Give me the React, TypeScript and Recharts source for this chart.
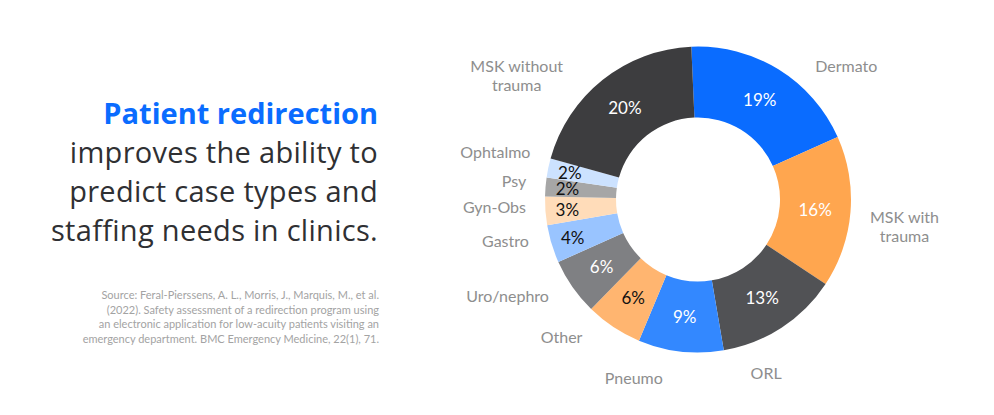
import { PieChart, Pie, Cell } from 'recharts';

const categories = [
  'Dermato',
  'MSK with\ntrauma',
  'ORL',
  'Pneumo',
  'Other',
  'Uro/nephro',
  'Gastro',
  'Gyn-Obs',
  'Psy',
  'Ophtalmo',
  'MSK without\ntrauma',
];
const shares = [19, 16, 13, 9, 6, 6, 4, 3, 2, 2, 20];

const sliceColors = [
  '#0a6cff', '#ffa64f', '#515255', '#3388ff', '#ffb570', '#7f8083',
  '#99c4ff', '#ffdcb9', '#a6a6a6', '#cce2ff', '#3d3d3f',
];
const pctColors = [
  '#fff', '#fff', '#fff', '#fff', '#111', '#fff',
  '#111', '#111', '#111', '#111', '#fff',
];

const data = categories.map((name, i) => ({ name, value: shares[i] }));

const FONT = 'Lato, "Open Sans", sans-serif';
const HEAD_FONT = '"Open Sans", Lato, sans-serif';
const LABEL_SIZE = 16;
const LINE_H = 19;
const GAP = 18;
const LABEL_TURN = 12; // labels under the centre drift clockwise
const Y_TOP = 55;
const Y_BOTTOM = 395;

let ctx: CanvasRenderingContext2D | null = null;
function textWidth(s: string) {
  if (!ctx) ctx = document.createElement('canvas').getContext('2d');
  if (!ctx) return s.length * LABEL_SIZE * 0.5;
  ctx.font = `${LABEL_SIZE}px ${FONT}`;
  return ctx.measureText(s).width;
}

// distance from pie centre to the nearest point of a box centred at (x, y)
function nearest(x: number, y: number, hw: number, hh: number) {
  const px = Math.max(x - hw, Math.min(0, x + hw));
  const py = Math.max(y - hh, Math.min(0, y + hh));
  return Math.hypot(px, py);
}

function solve(f: (t: number) => number, target: number) {
  let lo = 0;
  let hi = 500;
  for (let k = 0; k < 40; k++) {
    const m = (lo + hi) / 2;
    if (f(m) < target) lo = m;
    else hi = m;
  }
  return hi;
}

function renderLabel(props: any) {
  const { cx, cy, midAngle, innerRadius, outerRadius, index, value } = props;
  const rad = Math.PI / 180;
  const ux = Math.cos(midAngle * rad);
  const uy = -Math.sin(midAngle * rad);
  const la = (midAngle - 1.5 - LABEL_TURN * Math.max(0, uy)) * rad;
  const vx = Math.cos(la);
  const vy = -Math.sin(la);
  const lines = String(categories[index]).split('\n');
  const hw = Math.max(...lines.map(textWidth)) / 2 + 1;
  const hh = (lines.length * LINE_H) / 2;
  const minDist = outerRadius + GAP;

  const t = solve((s) => nearest(s * vx, s * vy, hw, hh), minDist);
  let lx = t * vx;
  let ly = t * vy;
  const side = vx >= 0 ? 1 : -1;
  if (cy + ly - hh < Y_TOP) {
    ly = Y_TOP - cy + hh;
    lx = side * solve((s) => nearest(side * s, ly, hw, hh), minDist);
  } else if (cy + ly + hh > Y_BOTTOM) {
    ly = Y_BOTTOM - cy - hh;
    lx = side * solve((s) => nearest(side * s, ly, hw, hh), minDist);
  }

  const pr = value < 5 ? outerRadius - 22 : (innerRadius + outerRadius) / 2;
  const px = cx + pr * ux;
  const py = cy + pr * uy;

  return (
    <g>
      <text
        x={cx + lx}
        y={cy + ly - hh + LINE_H / 2}
        textAnchor="middle"
        dominantBaseline="central"
        fill="#8e8e8e"
        fontSize={LABEL_SIZE}
        fontFamily={FONT}
      >
        {lines.map((ln, i) => (
          <tspan key={i} x={cx + lx} dy={i === 0 ? 0 : LINE_H}>
            {ln}
          </tspan>
        ))}
      </text>
      <text
        x={px}
        y={py}
        textAnchor="middle"
        dominantBaseline="central"
        fill={pctColors[index]}
        fontSize={17}
        fontFamily={FONT}
      >
        {value}%
      </text>
    </g>
  );
}

export default function App() {
  return (
    <div
      style={{
        position: 'fixed',
        left: 0,
        top: 0,
        width: 994,
        height: 415,
        background: '#fff',
        overflow: 'hidden',
      }}
    >
      <div
        style={{
          position: 'absolute',
          left: 0,
          top: 93,
          width: 378,
          textAlign: 'right',
          fontFamily: HEAD_FONT,
          fontSize: 29,
          lineHeight: '39px',
          color: '#2f3033',
        }}
      >
        <div style={{ color: '#0a6cff', fontWeight: 700 }}>Patient redirection</div>
        <div style={{ letterSpacing: 0.3 }}>improves the ability to</div>
        <div style={{ letterSpacing: 0.3 }}>predict case types and</div>
        <div style={{ letterSpacing: 0.3 }}>staffing needs in clinics.</div>
      </div>
      <div
        style={{
          position: 'absolute',
          left: 0,
          top: 288,
          width: 379,
          textAlign: 'right',
          fontFamily: FONT,
          fontSize: 11,
          lineHeight: '14.5px',
          color: '#a3a3a3',
        }}
      >
        Source: Feral-Pierssens, A. L., Morris, J., Marquis, M., et al.
        <br />
        (2022). Safety assessment of a redirection program using
        <br />
        an electronic application for low-acuity patients visiting an
        <br />
        emergency department. BMC Emergency Medicine, 22(1), 71.
      </div>
      <div style={{ position: 'absolute', left: 0, top: 0 }}>
        <PieChart width={994} height={415}>
          <Pie
            data={data}
            dataKey="value"
            nameKey="name"
            cx={693}
            cy={194.5}
            innerRadius={82}
            outerRadius={153}
            startAngle={92.5}
            endAngle={-267.5}
            stroke="none"
            label={renderLabel}
            labelLine={false}
            isAnimationActive={false}
          >
            {data.map((d, i) => (
              <Cell key={d.name} fill={sliceColors[i]} />
            ))}
          </Pie>
        </PieChart>
      </div>
    </div>
  );
}
